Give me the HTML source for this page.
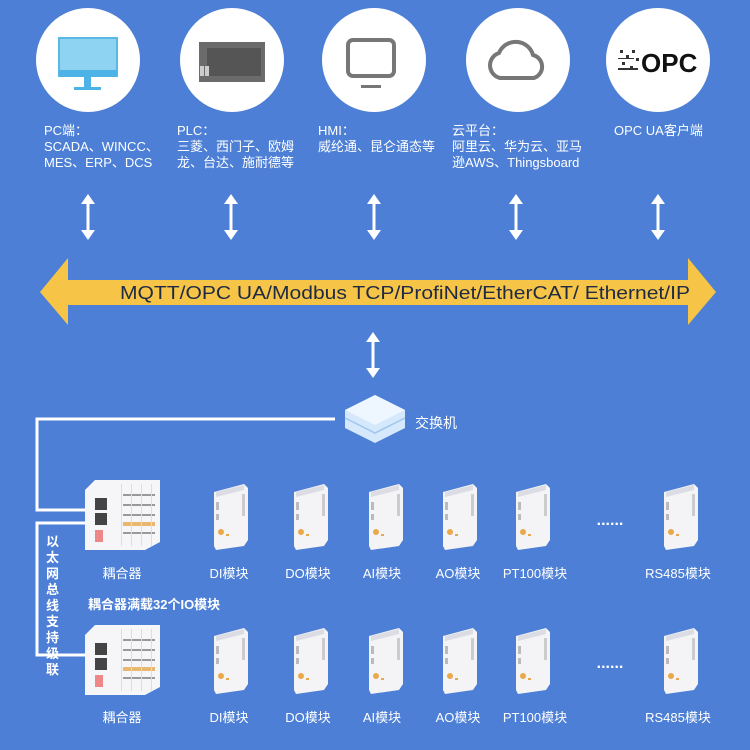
<!DOCTYPE html>
<html><head><meta charset="utf-8"><style>
html,body{margin:0;padding:0;background:#4c7fd5;}
svg{display:block;}
text{font-family:"Liberation Sans","Noto Sans CJK SC",sans-serif;fill:#fff;}
</style></head><body>
<svg width="750" height="750" viewBox="0 0 750 750" xmlns="http://www.w3.org/2000/svg">
<defs>
<g id="da"><rect x="-1.5" y="202" width="3" height="30"/><path d="M-7,204 L0,194 L7,204 Z"/><path d="M-7,230 L0,240 L7,230 Z"/></g>
<g id="mod">
<path d="M-16,4 L14,-4 L18,0 L18,52 L14,58 L-14,62 L-16,58 Z" fill="#f4f4f6"/>
<path d="M-14,4 L14,-3 L14,2 L-14,9 Z" fill="#dcdce4"/>
<rect x="-14" y="14" width="3" height="8" fill="#bbb"/>
<rect x="-14" y="26" width="3" height="6" fill="#bbb"/>
<rect x="12" y="6" width="3" height="22" fill="#ccc"/>
<circle cx="-9" cy="44" r="3" fill="#e9a84a"/>
<rect x="-4" y="46" width="3" height="2" fill="#e9a84a"/>
</g>
<g id="cpl">
<path d="M0,10 L10,0 L75,0 L75,62 L60,70 L0,70 Z" fill="#f6f6f8"/>
<rect x="10" y="18" width="12" height="12" fill="#444"/>
<rect x="10" y="33" width="12" height="12" fill="#444"/>
<rect x="10" y="50" width="8" height="12" fill="#e88" />
<g fill="#999"><rect x="38" y="14" width="32" height="2"/><rect x="38" y="24" width="32" height="2"/><rect x="38" y="34" width="32" height="2"/><rect x="38" y="52" width="32" height="2"/></g>
<rect x="38" y="42" width="32" height="4" fill="#e9b870"/>
<g fill="#ddd"><rect x="36" y="4" width="1" height="62"/><rect x="46" y="4" width="1" height="62"/><rect x="56" y="4" width="1" height="62"/><rect x="66" y="4" width="1" height="62"/></g>
</g>
</defs>

<g fill="#fff">
<circle cx="88" cy="60" r="52"/><circle cx="232" cy="60" r="52"/><circle cx="374" cy="60" r="52"/><circle cx="518" cy="60" r="52"/><circle cx="658" cy="60" r="52"/>
</g>
<rect x="59" y="38" width="58" height="38" fill="#8fd3f2" stroke="#5ab8e6" stroke-width="2"/>
<rect x="59" y="70" width="58" height="7" fill="#4db2e6"/>
<rect x="84" y="77" width="7" height="11" fill="#4db2e6"/>
<rect x="74" y="87" width="27" height="3" fill="#4db2e6"/>
<rect x="199" y="42" width="66" height="40" fill="#6b6b6b"/>
<rect x="207" y="48" width="54" height="28" fill="#555"/>
<rect x="200" y="66" width="4" height="10" fill="#ccc"/><rect x="205" y="66" width="4" height="10" fill="#ccc"/>
<rect x="348" y="40" width="46" height="36" rx="5" fill="none" stroke="#777" stroke-width="4"/>
<rect x="361" y="85" width="20" height="3" fill="#777"/>
<path d="M500,78 L534,78 A12,12 0 0 0 533,55 A18,18 0 0 0 499,53 A13,13 0 0 0 500,78 Z" fill="none" stroke="#777" stroke-width="4"/>
<text x="641" y="72" style="font:bold 26px 'Liberation Sans';fill:#111">OPC</text>
<g fill="#333"><rect x="620" y="50" width="3" height="3"/><rect x="626" y="55" width="3" height="3"/><rect x="632" y="50" width="3" height="3"/><rect x="622" y="62" width="3" height="3"/><rect x="630" y="66" width="3" height="3"/><rect x="636" y="58" width="3" height="3"/><rect x="618" y="68" width="20" height="2"/><rect x="618" y="58" width="16" height="1"/></g>

<g font-size="13">
<text x="44" y="135">PC端：</text><text x="44" y="151">SCADA、WINCC、</text><text x="44" y="167">MES、ERP、DCS</text>
<text x="177" y="135">PLC：</text><text x="177" y="151">三菱、西门子、欧姆</text><text x="177" y="167">龙、台达、施耐德等</text>
<text x="318" y="135">HMI：</text><text x="318" y="151">威纶通、昆仑通态等</text>
<text x="452" y="135">云平台：</text><text x="452" y="151">阿里云、华为云、亚马</text><text x="452" y="167">逊AWS、Thingsboard</text>
<text x="614" y="135">OPC  UA客户端</text>
</g>

<g fill="#fff">
<use href="#da" x="88"/><use href="#da" x="231"/><use href="#da" x="374"/><use href="#da" x="516"/><use href="#da" x="658"/>
<use href="#da" x="373" y="138"/>
</g>

<path d="M40,292 L68,258 L68,280 L688,280 L688,258 L716,292 L688,325 L688,305 L68,305 L68,325 Z" fill="#f6c446"/>
<text x="120" y="299" font-size="18" textLength="570" lengthAdjust="spacingAndGlyphs" style="fill:#1e2a44">MQTT/OPC UA/Modbus TCP/ProfiNet/EtherCAT/ Ethernet/IP</text>

<path d="M345,410 L375,395 L405,410 L405,428 L375,443 L345,428 Z" fill="#d6e8fb"/>
<path d="M345,410 L375,395 L405,410 L375,425 Z" fill="#eef6ff"/>
<path d="M345,418 L375,433 L405,418" fill="none" stroke="#9ec6ee" stroke-width="1.5"/>
<text x="415" y="428" font-size="14">交换机</text>

<polyline points="335,419 37,419 37,510 85,510" fill="none" stroke="#fff" stroke-width="3"/>
<polyline points="85,523 37,523 37,655 85,655" fill="none" stroke="#fff" stroke-width="3"/>
<g font-size="13" style="font-weight:bold">
<text x="46" y="546">以</text><text x="46" y="562">太</text><text x="46" y="578">网</text><text x="46" y="594">总</text><text x="46" y="610">线</text><text x="46" y="626">支</text><text x="46" y="642">持</text><text x="46" y="658">级</text><text x="46" y="674">联</text>
</g>

<use href="#cpl" x="85" y="480"/>
<use href="#mod" x="230" y="488"/><use href="#mod" x="310" y="488"/><use href="#mod" x="385" y="488"/><use href="#mod" x="459" y="488"/><use href="#mod" x="532" y="488"/><use href="#mod" x="680" y="488"/>
<g font-size="13" text-anchor="middle">
<text x="122" y="578">耦合器</text><text x="229" y="578">DI模块</text><text x="308" y="578">DO模块</text><text x="382" y="578">AI模块</text><text x="458" y="578">AO模块</text><text x="535" y="578">PT100模块</text><text x="678" y="578">RS485模块</text>
</g>
<text x="610" y="525" font-size="16" text-anchor="middle" style="font-weight:bold">......</text>
<text x="88" y="609" font-size="13" style="font-weight:bold">耦合器满载32个IO模块</text>

<use href="#cpl" x="85" y="625"/>
<use href="#mod" x="230" y="632"/><use href="#mod" x="310" y="632"/><use href="#mod" x="385" y="632"/><use href="#mod" x="459" y="632"/><use href="#mod" x="532" y="632"/><use href="#mod" x="680" y="632"/>
<g font-size="13" text-anchor="middle">
<text x="122" y="722">耦合器</text><text x="229" y="722">DI模块</text><text x="308" y="722">DO模块</text><text x="382" y="722">AI模块</text><text x="458" y="722">AO模块</text><text x="535" y="722">PT100模块</text><text x="678" y="722">RS485模块</text>
</g>
<text x="610" y="668" font-size="16" text-anchor="middle" style="font-weight:bold">......</text>
</svg>
</body></html>
